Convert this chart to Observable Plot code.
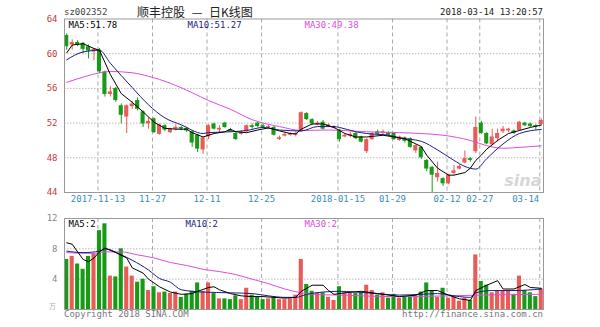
<!DOCTYPE html>
<html><head><meta charset="utf-8">
<script src="https://cdn.jsdelivr.net/npm/d3@7"></script>
<script src="https://cdn.jsdelivr.net/npm/@observablehq/plot@0.6"></script>
<style>
body{margin:0;background:#fff;}
#wrap{position:relative;width:600px;height:327px;overflow:hidden;font-family:"DejaVu Sans Mono",monospace;}
.t{position:absolute;white-space:nowrap;font-size:9px;line-height:10px;}
</style></head><body>
<div id="wrap">
 <div id="main" style="position:absolute;left:0;top:0"></div>
 <div id="vol" style="position:absolute;left:0;top:210px"></div>
 <div class="t" style="left:64px;top:7px;color:#444">sz002352</div>
 <div class="t" style="left:137px;top:4px;font-family:'Noto Sans CJK SC',sans-serif;font-size:12px;line-height:15px;color:#222;word-spacing:4px">顺丰控股 — 日K线图</div>
 <div class="t" style="right:57px;top:7px;color:#222">2018-03-14 13:20:57</div>
 <div class="t" style="left:64px;top:309px;color:#777">Copyright 2018 SINA.COM</div>
 <div class="t" style="right:57px;top:309px;color:#777">http://finance.sina.com.cn</div>
</div>
<script>
const dates = ["2017-11-03","2017-11-06","2017-11-07","2017-11-08","2017-11-09","2017-11-10",
"2017-11-13","2017-11-14","2017-11-15","2017-11-16","2017-11-17","2017-11-20","2017-11-21","2017-11-22","2017-11-23","2017-11-24",
"2017-11-27","2017-11-28","2017-11-29","2017-11-30","2017-12-01","2017-12-04","2017-12-05","2017-12-06","2017-12-07","2017-12-08",
"2017-12-11","2017-12-12","2017-12-13","2017-12-14","2017-12-15","2017-12-18","2017-12-19","2017-12-20","2017-12-21","2017-12-22",
"2017-12-25","2017-12-26","2017-12-27","2017-12-28","2017-12-29","2018-01-02","2018-01-03","2018-01-04","2018-01-05",
"2018-01-08","2018-01-09","2018-01-10","2018-01-11","2018-01-12","2018-01-15","2018-01-16","2018-01-17","2018-01-18","2018-01-19",
"2018-01-22","2018-01-23","2018-01-24","2018-01-25","2018-01-26","2018-01-29","2018-01-30","2018-01-31","2018-02-01","2018-02-02",
"2018-02-05","2018-02-06","2018-02-07","2018-02-08","2018-02-09","2018-02-12","2018-02-13","2018-02-14","2018-02-22","2018-02-23",
"2018-02-26","2018-02-27","2018-02-28","2018-03-01","2018-03-02","2018-03-05","2018-03-06","2018-03-07","2018-03-08","2018-03-09",
"2018-03-12","2018-03-13","2018-03-14"];

const open = [62.1,61.0,61.3,61.2,60.8,60.2,60.4,57.9,55.3,56.0, 54.0,52.7,53.9,54.6,53.3,51.9,52.5,50.7,51.7,50.9,
 51.3,51.5,51.4,51.0,50.6,48.9,50.4,51.9,51.2,52.0, 51.2,50.8,50.7,51.0,51.7,52.0,51.7,51.5,51.5,50.1,
 50.5,50.6,50.6,51.0,53.1,52.4,51.8,52.1,51.6,51.4, 51.2,50.4,50.5,50.8,50.4,48.7,50.1,51.0,50.8,50.9,
 50.8,50.0,50.3,50.2,48.8,49.2,47.7,46.9,45.7,45.6, 45.0,46.2,46.7,47.4,47.9,48.7,52.0,50.8,49.5,50.2,
 51.0,51.1,51.1,51.15,52.0,51.9,51.7,51.85];
const close = [60.8,61.3,61.0,60.5,60.3,60.5,57.9,55.3,55.6,54.6, 52.9,54.0,54.2,53.6,51.9,52.2,50.9,51.8,51.2,51.3,
 51.5,51.3,51.1,49.7,49.0,50.3,51.7,51.3,51.4,51.5, 51.0,50.1,50.9,51.7,51.5,51.6,51.5,51.6,50.6,50.3,
 50.7,50.8,50.8,53.2,52.4,51.9,52.0,51.3,51.8,51.6, 50.1,50.6,50.7,50.2,49.8,50.1,50.8,50.7,51.0,50.6,
 50.1,50.4,49.9,49.2,49.4,48.0,46.7,46.0,46.2,45.0, 46.0,46.5,47.0,47.9,47.7,51.5,50.8,49.6,50.4,50.8,
 51.3,51.3,50.8,52.1,51.7,51.6,51.5,52.3];
const high = [62.3,61.6,61.5,61.3,61.0,60.6,60.6,58.0,56.2,56.1, 54.2,54.1,54.5,54.9,53.4,52.6,52.6,51.9,51.8,51.4,
 51.8,51.6,51.5,51.1,50.7,50.4,51.8,52.0,51.7,52.1, 51.4,50.9,51.1,51.8,51.9,52.1,51.9,51.8,51.6,50.5,
 50.9,50.9,51.0,53.3,53.2,52.5,52.2,52.3,51.9,51.7, 51.3,50.8,50.9,50.9,50.5,50.2,50.9,51.2,51.2,51.0,
 50.9,50.5,50.4,50.3,49.5,49.3,47.8,47.0,47.5,45.7, 46.1,47.1,47.2,48.8,48.0,52.7,52.2,50.9,51.3,51.3,
 51.6,51.4,51.2,52.2,52.1,52.0,51.8,52.5];
const low = [60.4,60.4,60.8,60.0,59.4,59.2,57.7,55.0,55.0,54.4, 51.9,50.8,53.6,53.4,51.5,51.3,50.8,50.6,51.0,50.8,
 51.1,51.1,50.9,49.2,48.6,48.4,50.1,51.2,50.9,51.4, 50.9,50.0,50.6,50.9,51.3,51.5,51.4,51.3,50.5,50.0,
 50.4,50.5,50.4,50.9,52.3,51.7,51.7,51.2,51.5,51.3, 49.8,50.3,50.3,50.1,49.7,48.5,50.0,50.6,50.6,50.5,
 50.0,49.9,49.7,49.1,48.5,47.8,46.4,44.0,45.2,44.7, 44.9,46.0,46.6,47.3,47.5,48.5,50.7,49.5,49.4,49.8,
 50.8,50.9,50.7,51.1,51.6,51.5,51.2,51.7];
const volume = [6.6,7.0,6.0,5.3,7.0,7.3,10.4,11.3,4.4,4.3, 8.0,5.6,4.4,3.6,4.0,2.5,3.0,2.2,2.3,2.1,
 2.3,1.6,2.0,2.4,3.5,2.4,3.5,2.1,1.4,1.4, 1.3,1.8,1.3,2.8,1.9,1.6,1.3,1.4,1.7,1.3,
 1.3,1.4,1.9,6.6,3.3,2.4,2.2,2.2,1.6,1.2, 3.0,2.2,2.1,2.1,2.2,3.2,2.5,1.9,2.2,1.5,
 2.0,1.5,1.7,1.6,1.9,2.3,3.5,2.4,1.6,2.8, 1.5,1.7,1.1,1.5,1.2,7.2,3.7,3.2,2.2,2.4,
 2.5,2.5,2.0,4.4,2.5,2.2,1.7,2.7];

// moving-average lines at these bar indices
const ma5Idx = [0,1,3,5,6,7,8,9,10,12,14,16,18,20,22,23,25,27,29,30,31,33,35,37,39,41,42,43,45,47,49,51,53,55,58,60,62,64,65,66,68,70,71,73,74,75,76,77,79,81,83,85,87];
const ma5 = [60.1,61.0,61.15,60.6,60.4,59.0,57.6,56.5,55.4,54.4,53.3,52.1,51.4,51.3,51.3,50.9,50.4,50.8,51.0,51.3,51.0,50.9,51.2,51.45,51.1,50.8,50.75,51.3,51.9,51.9,51.5,50.8,50.4,50.4,50.6,50.4,50.2,49.6,49.3,48.3,46.8,46.0,46.0,46.3,46.8,47.7,48.3,49.0,50.0,50.8,51.15,51.5,51.78];
const ma10Idx = [0,3,6,8,12,15,18,21,25,26,30,33,36,39,43,46,49,50,53,55,59,61,65,68,71,73,75,77,80,83,87];
const ma10 = [59.3,60.2,60.4,58.9,56.1,54.1,52.6,51.8,50.8,50.9,51.0,51.15,51.5,51.2,51.1,51.6,51.6,51.5,51.0,50.8,50.6,50.3,49.9,48.9,47.7,47.0,46.7,47.9,49.6,50.8,51.27];
const ma30Idx = [0,3,6,8,12,15,19,23,26,30,34,36,39,43,48,55,61,65,69,74,77,80,83,87];
const ma30 = [56.7,57.3,57.8,57.95,57.8,57.4,56.6,55.5,54.6,53.6,52.4,52.0,51.6,51.15,51.2,51.0,50.9,50.8,50.6,50.0,49.4,49.1,49.2,49.38];

const vma5Idx = [0,1,2,3,4,5,6,7,9,11,12,14,15,17,19,21,23,24,26,27,28,30,32,34,36,38,40,42,43,45,47,48,49,51,54,57,61,64,66,68,70,72,74,75,77,79,80,82,84,85,87];
const vma5 = [8.8,8.6,7.6,6.6,6.3,6.8,7.6,8.1,7.5,6.8,5.5,4.8,4.0,3.0,2.3,2.0,2.1,2.4,2.9,3.0,2.6,2.1,1.8,1.7,1.7,1.6,1.5,1.6,2.4,3.2,3.2,2.5,2.0,2.2,2.4,2.1,1.7,1.9,2.5,2.5,1.9,1.4,1.2,2.5,3.2,3.8,2.7,2.7,3.3,2.9,2.8];
const vma10Idx = [0,3,6,7,10,12,15,17,19,21,25,30,34,37,40,42,44,47,50,55,61,65,68,72,74,75,78,82,87];
const vma10 = [7.7,7.5,7.7,8.0,7.2,6.5,5.2,4.1,3.6,2.6,2.3,2.2,2.1,1.8,1.6,1.6,2.0,2.3,2.4,2.2,1.9,2.0,2.1,1.7,1.6,2.2,2.5,2.5,2.7];
const vma30Idx = [0,5,7,10,13,16,19,22,25,28,31,34,37,40,43,45,50,60,70,76,87];
const vma30 = [7.5,7.4,7.6,7.6,7.2,6.8,6.2,5.8,5.3,5.0,4.6,4.0,3.4,2.7,2.2,2.0,1.9,1.7,1.8,1.9,2.0];

const tickDates = ["2017-11-13","2017-11-27","2017-12-11","2017-12-25","2018-01-15","2018-01-29","2018-02-12","2018-02-27","2018-03-14"];
const tickLabels = ["2017-11-13","11-27","12-11","12-25","2018-01-15","01-29","02-12","02-27","03-14"];
const priceTicks = [44,48,52,56,60,64];
const priceGrid = [48,52,56,60];
const volTicks = [4,8,12];
const volGrid = [4,8];

const RED = "#ea5a56", GREEN = "#179b17", NAVY = "#1c1c86", MAG = "#dd4ddd";
const bars = dates.map((d,i)=>({date:d, o:open[i], c:close[i], h:high[i], l:low[i], v:volume[i], col: close[i] >= open[i] ? RED : GREEN}));
const pts = (idx, vals) => idx.map((k,j)=>({date:dates[k], v:vals[j]}));

const xScale = {type:"band", domain:dates, paddingInner:0.25, paddingOuter:0.035, axis:null};
const font = {fontFamily:"DejaVu Sans Mono, monospace", fontSize:"9px", background:"transparent", overflow:"visible"};

const mainPlot = Plot.plot({
  width:600, height:210, marginLeft:64, marginRight:57, marginTop:18.5, marginBottom:18,
  x: xScale,
  y: {domain:[44,64], axis:null},
  style: font,
  marks: [
    Plot.ruleY(priceGrid, {y:d=>d, stroke:"#bbb", strokeDasharray:"1.5,1.5"}),
    Plot.ruleX(tickDates, {x:d=>d, stroke:"#aaa", strokeDasharray:"4,3", dx:-1.5}),
    Plot.text(["sina"], {text:d=>d, frameAnchor:"bottom-right", dx:-2, dy:-7, textAnchor:"end", lineAnchor:"bottom", fill:"#d6d6d6", fontSize:16, fontStyle:"italic", fontWeight:"bold", fontFamily:"DejaVu Sans, sans-serif"}),
    Plot.ruleX(bars, {x:"date", y1:"l", y2:"h", stroke:"col", strokeWidth:1}),
    Plot.barY(bars, {x:"date", y1:"o", y2:"c", fill:"col"}),
    Plot.line(pts(ma30Idx, ma30), {x:"date", y:"v", stroke:MAG, strokeWidth:1, curve:"monotone-x"}),
    Plot.line(pts(ma10Idx, ma10), {x:"date", y:"v", stroke:NAVY, strokeWidth:1, curve:"monotone-x"}),
    Plot.line(pts(ma5Idx, ma5), {x:"date", y:"v", stroke:"#000", strokeWidth:1}),
    Plot.frame({stroke:"#999"}),
    Plot.text(priceTicks, {y:d=>d, text:d=>String(d), frameAnchor:"left", dx:-7, textAnchor:"end", fill:"#c23c3c"}),
    Plot.text(tickDates.slice(0,-1), {x:d=>d, text:(d,i)=>tickLabels[i], frameAnchor:"bottom", dy:9, dx:-1.5, fill:"#3a8cbd"}),
    Plot.text(tickDates.slice(-1), {x:d=>d, text:d=>tickLabels[tickLabels.length-1], frameAnchor:"bottom", dy:9, dx:-2, textAnchor:"end", fill:"#3a8cbd"}),
    Plot.text(["MA5:51.78"], {text:d=>d, frameAnchor:"top-left", textAnchor:"start", lineAnchor:"top", dx:4, dy:3, fill:"#000"}),
    Plot.text(["MA10:51.27"], {text:d=>d, frameAnchor:"top-left", textAnchor:"start", lineAnchor:"top", dx:123, dy:3, fill:NAVY}),
    Plot.text(["MA30:49.38"], {text:d=>d, frameAnchor:"top-left", textAnchor:"start", lineAnchor:"top", dx:240, dy:3, fill:MAG})
  ]
});
document.getElementById("main").appendChild(mainPlot);

const volPlot = Plot.plot({
  width:600, height:117, marginLeft:64, marginRight:57, marginTop:8, marginBottom:18,
  x: xScale,
  y: {domain:[0,12], axis:null},
  style: font,
  marks: [
    Plot.ruleY(volGrid, {y:d=>d, stroke:"#bbb", strokeDasharray:"1.5,1.5"}),
    Plot.ruleX(tickDates, {x:d=>d, stroke:"#aaa", strokeDasharray:"4,3", dx:-1.5}),
    Plot.barY(bars, {x:"date", y:"v", fill:"col"}),
    Plot.line(pts(vma30Idx, vma30), {x:"date", y:"v", stroke:MAG, strokeWidth:1, curve:"monotone-x"}),
    Plot.line(pts(vma10Idx, vma10), {x:"date", y:"v", stroke:NAVY, strokeWidth:1, curve:"monotone-x"}),
    Plot.line(pts(vma5Idx, vma5), {x:"date", y:"v", stroke:"#000", strokeWidth:1}),
    Plot.frame({stroke:"#999"}),
    Plot.text(volTicks, {y:d=>d, text:d=>String(d), frameAnchor:"left", dx:-7, textAnchor:"end", fill:"#888"}),
    Plot.text(["万"], {text:d=>d, frameAnchor:"bottom-left", dx:-12, dy:-1, textAnchor:"middle", fill:"#aaa", fontSize:7, fontFamily:"Noto Sans CJK SC, sans-serif"}),
    Plot.text(["MA5:2"], {text:d=>d, frameAnchor:"top-left", textAnchor:"start", lineAnchor:"top", dx:4, dy:2, fill:"#000"}),
    Plot.text(["MA10:2"], {text:d=>d, frameAnchor:"top-left", textAnchor:"start", lineAnchor:"top", dx:121, dy:2, fill:NAVY}),
    Plot.text(["MA30:2"], {text:d=>d, frameAnchor:"top-left", textAnchor:"start", lineAnchor:"top", dx:240, dy:2, fill:MAG})
  ]
});
document.getElementById("vol").appendChild(volPlot);
</script>
</body></html>
